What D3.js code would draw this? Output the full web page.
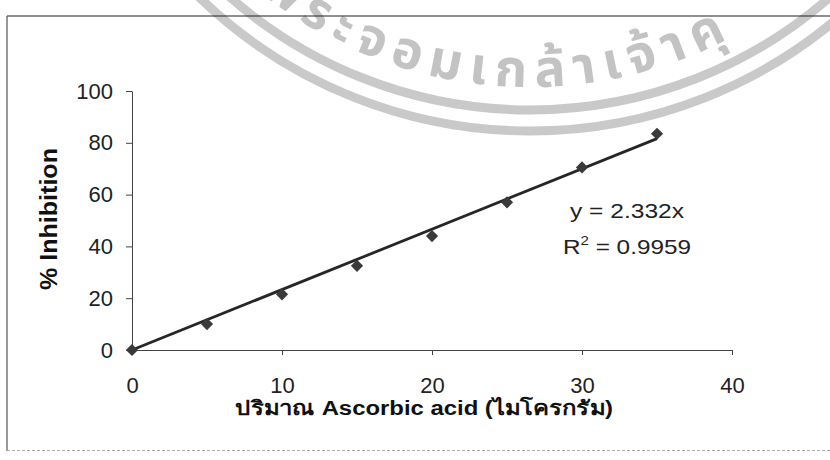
<!DOCTYPE html>
<html>
<head>
<meta charset="utf-8">
<script src="https://cdn.jsdelivr.net/npm/d3@7"></script>
<style>
  body { margin: 0; background: #fff; }
  .tick text { font-family: "Liberation Sans", Arial, sans-serif; font-size: 22px; fill: #222; }
  .axis path, .axis line { stroke: #444; }
</style>
</head>
<body>
<div class="canva"></div>
<script>
// data
const doses = [0, 5, 10, 15, 20, 25, 30, 35];
const inhibition = [0, 10, 21.5, 32.5, 44, 57, 70.5, 83.5];
const xTicks = [0, 10, 20, 30, 40];
const yTicks = [0, 20, 40, 60, 80, 100];
const slope = 2.332;
const eqLabel = "y = 2.332x";
const r2Label = " = 0.9959";
const xTitle = "ปริมาณ Ascorbic acid (ไมโครกรัม)";
const yTitle = "% Inhibition";
const sealText = "พระจอมเกล้าเจ้าคุ";

const svg = d3.select(".canva").append("svg")
  .attr("width", 830)
  .attr("height", 460);

svg.append("rect").attr("width", 830).attr("height", 460).attr("fill", "#fff");

const x = d3.scaleLinear().domain([0, 40]).range([132, 732]);
const y = d3.scaleLinear().domain([0, 100]).range([350, 91]);

// watermark seal (behind everything)
const seal = svg.append("g").attr("opacity", 0.9);
const cx = 530, cy = -345;
seal.append("circle").attr("cx", cx).attr("cy", cy).attr("r", 455)
  .attr("fill", "none").attr("stroke", "#c4c4c4").attr("stroke-width", 9);
seal.append("circle").attr("cx", cx).attr("cy", cy).attr("r", 476)
  .attr("fill", "none").attr("stroke", "#c4c4c4").attr("stroke-width", 9);

const arcPath = d3.path();
arcPath.arc(cx, cy, 432, 135 * Math.PI / 180, 50 * Math.PI / 180, true);
svg.append("defs").append("path").attr("id", "sealArc").attr("d", arcPath.toString());

const sealTxt = seal.append("text")
  .style("font-family", "'Noto Sans Thai', Loma, Garuda, 'Noto Sans', sans-serif")
  .style("font-size", "52px")
  .style("font-weight", "bold")
  .attr("fill", "#bdbdbd");
const tp = sealTxt.append("textPath")
  .attr("href", "#sealArc")
  .attr("startOffset", 48)
  .text(sealText);
const natural = tp.node().getComputedTextLength();
sealTxt.style("letter-spacing", Math.max(0, (505 - natural) / 14) + "px");

// frame
svg.append("line").attr("x1", 7).attr("x2", 830).attr("y1", 16).attr("y2", 16)
  .attr("stroke", "#222").attr("stroke-width", 1.2);
svg.append("line").attr("x1", 7).attr("x2", 7).attr("y1", 16).attr("y2", 451)
  .attr("stroke", "#555").attr("stroke-width", 1.2);
svg.append("line").attr("x1", 7).attr("x2", 830).attr("y1", 450.5).attr("y2", 450.5)
  .attr("stroke", "#aaa").attr("stroke-dasharray", "3,2");

// axes
svg.append("g").attr("class", "axis")
  .attr("transform", "translate(0,350)")
  .call(d3.axisBottom(x).tickValues(xTicks).tickSize(5).tickSizeOuter(0).tickPadding(22));

svg.append("g").attr("class", "axis")
  .attr("transform", "translate(132,0)")
  .call(d3.axisLeft(y).tickValues(yTicks).tickSize(6).tickSizeOuter(0).tickPadding(13));

// trendline y = slope * x
const trend = d3.line()
  .x(d => x(d))
  .y(d => y(slope * d));
svg.append("path")
  .datum([doses[0], doses[doses.length - 1]])
  .attr("d", trend)
  .attr("fill", "none")
  .attr("stroke", "#262626")
  .attr("stroke-width", 2.8);

// diamond markers
svg.selectAll(".pt")
  .data(doses)
  .enter()
  .append("path")
  .attr("class", "pt")
  .attr("d", d3.symbol().type(d3.symbolDiamond2).size(95))
  .attr("transform", (d, i) => `translate(${x(d)},${y(inhibition[i])})`)
  .attr("fill", "#3a3a3a");

// equation labels
const font = "'Liberation Sans', Arial, sans-serif";
svg.append("text").attr("x", 570).attr("y", 218)
  .attr("textLength", 114).attr("lengthAdjust", "spacingAndGlyphs")
  .style("font-family", font).style("font-size", "21px").attr("fill", "#222")
  .text(eqLabel);

const r2 = svg.append("text").attr("x", 563).attr("y", 254)
  .attr("textLength", 128).attr("lengthAdjust", "spacingAndGlyphs")
  .style("font-family", font).style("font-size", "21px").attr("fill", "#222");
r2.append("tspan").text("R");
r2.append("tspan").attr("dy", -9).style("font-size", "13px").text("2");
r2.append("tspan").attr("dy", 9).text(r2Label);

// axis titles
svg.append("text").attr("x", 235).attr("y", 415)
  .attr("textLength", 378).attr("lengthAdjust", "spacingAndGlyphs")
  .style("font-family", font).style("font-size", "20px").style("font-weight", "bold")
  .attr("fill", "#111")
  .text(xTitle);

svg.append("text")
  .attr("transform", "translate(57,219) rotate(-90)")
  .attr("text-anchor", "middle")
  .attr("textLength", 142).attr("lengthAdjust", "spacingAndGlyphs")
  .style("font-family", font).style("font-size", "24px").style("font-weight", "bold")
  .attr("fill", "#111")
  .text(yTitle);
</script>
</body>
</html>
